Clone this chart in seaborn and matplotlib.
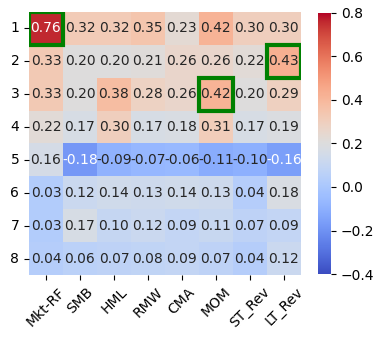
import numpy as np
import pandas as pd
import seaborn as sns
import matplotlib.pyplot as plt
from matplotlib.patches import Rectangle

factors = ['Mkt-RF', 'SMB', 'HML', 'RMW', 'CMA', 'MOM', 'ST_Rev', 'LT_Rev']
rows = ['1', '2', '3', '4', '5', '6', '7', '8']

r1 = [0.76, 0.32, 0.32, 0.35, 0.23, 0.42, 0.30, 0.30]
r2 = [0.33, 0.20, 0.20, 0.21, 0.26, 0.26, 0.22, 0.43]
r3 = [0.33, 0.20, 0.38, 0.28, 0.26, 0.42, 0.20, 0.29]
r4 = [0.22, 0.17, 0.30, 0.17, 0.18, 0.31, 0.17, 0.19]
r5 = [0.16, -0.18, -0.09, -0.07, -0.06, -0.11, -0.10, -0.16]
r6 = [0.03, 0.12, 0.14, 0.13, 0.14, 0.13, 0.04, 0.18]
r7 = [0.03, 0.17, 0.10, 0.12, 0.09, 0.11, 0.07, 0.09]
r8 = [0.04, 0.06, 0.07, 0.08, 0.09, 0.07, 0.04, 0.12]

# highlighted cells (row, col)
highlight = [(0, 0), (1, 7), (2, 5)]

df = pd.DataFrame([r1, r2, r3, r4, r5, r6, r7, r8], index=rows, columns=factors)

fig = plt.figure(figsize=(3.84, 3.4), dpi=100)
ax = fig.add_axes([0.0755, 0.191, 0.708, 0.774])
cax = fig.add_axes([0.828, 0.194, 0.034, 0.768])

sns.heatmap(df, ax=ax, cbar_ax=cax, cmap='coolwarm', vmin=-0.4, vmax=0.8,
            annot=True, fmt='.2f', annot_kws={'fontsize': 10})

for r, c in highlight:
    ax.add_patch(Rectangle((c, r), 1, 1, fill=False, edgecolor='green', lw=3))

ax.set_xticklabels(ax.get_xticklabels(), rotation=45)
ax.set_yticklabels(ax.get_yticklabels(), rotation=0)
ax.tick_params(axis='both', labelsize=10)
cax.tick_params(labelsize=10)

fig.savefig('out.png', dpi=100)
